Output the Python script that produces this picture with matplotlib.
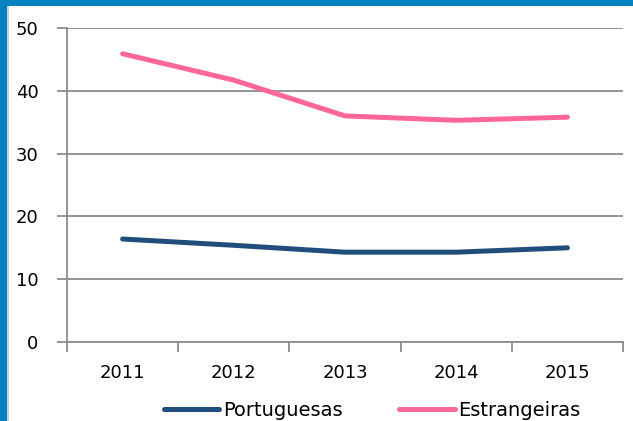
import matplotlib.pyplot as plt
from matplotlib.patches import Rectangle

anos = ['2011', '2012', '2013', '2014', '2015']
portuguesas = [16.4, 15.4, 14.3, 14.3, 15.0]
estrangeiras = [45.9, 41.7, 36.0, 35.3, 35.8]

plt.rcParams['font.family'] = ['DejaVu Sans']

fig = plt.figure(figsize=(6.33, 4.21), dpi=100)
fig.patch.set_facecolor('white')

# moldura azul (topo e lado esquerdo)
fig.patches.append(Rectangle((0, 0), 7 / 633, 1, transform=fig.transFigure,
                             facecolor='#0482C2', edgecolor='none', zorder=0))
fig.patches.append(Rectangle((0, 1 - 6 / 421), 1, 6 / 421, transform=fig.transFigure,
                             facecolor='#0482C2', edgecolor='none', zorder=0))
fig.patches.append(Rectangle((7 / 633, 0), 2 / 633, 1 - 6 / 421, transform=fig.transFigure,
                             facecolor='#D0D0D0', edgecolor='none', zorder=0))

ax = fig.add_axes([67 / 633, 79 / 421, 556 / 633, 314 / 421])
x = list(range(len(anos)))
ax.plot(x, portuguesas, color='#1F4E7D', lw=3.6, solid_capstyle='round',
        label='Portuguesas', zorder=3)
ax.plot(x, estrangeiras, color='#FF6699', lw=3.6, solid_capstyle='round',
        label='Estrangeiras', zorder=3)

ax.set_xlim(-0.5, len(anos) - 0.5)
ax.set_ylim(0, 50)
ax.set_yticks(range(0, 51, 10))
ax.set_xticks([i - 0.5 for i in range(len(anos) + 1)])
ax.set_xticklabels([])
ax.set_xticks(x, minor=True)
ax.set_xticklabels(anos, minor=True)
ax.tick_params(axis='x', which='minor', length=0, labelsize=13, pad=16)
ax.tick_params(axis='x', which='major', length=7, color='#8C8C8C', width=1.3)
ax.tick_params(axis='y', length=7, color='#8C8C8C', width=1.3, labelsize=13, pad=13.5)

ax.grid(axis='y', color='#8C8C8C', lw=1.3)
ax.set_axisbelow(True)
for s in ['top', 'right']:
    ax.spines[s].set_visible(False)
for s in ['left', 'bottom']:
    ax.spines[s].set_color('#8C8C8C')
    ax.spines[s].set_linewidth(1.3)

fig.legend(*ax.get_legend_handles_labels(), loc='center left',
           bbox_to_anchor=(164 / 633, 11 / 421), ncol=2, frameon=False,
           fontsize=14, handlelength=2.85, handletextpad=0.2, columnspacing=2.9,
           borderaxespad=0, borderpad=0)

fig.savefig('out.png', dpi=100)
